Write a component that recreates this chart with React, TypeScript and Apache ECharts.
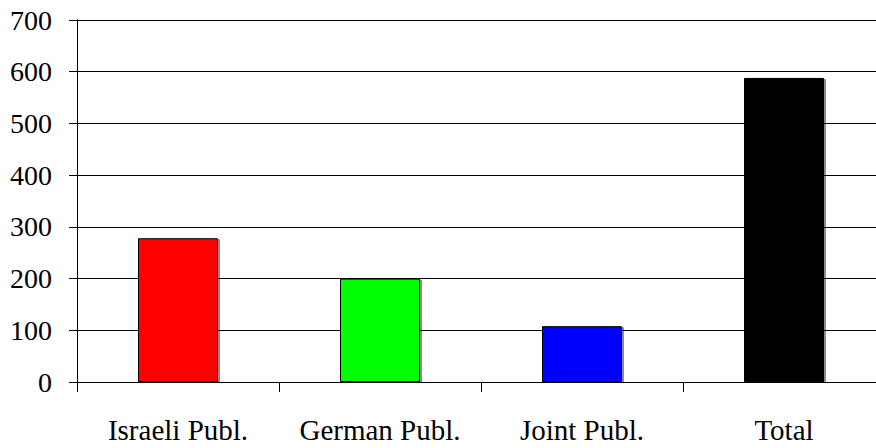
import React, { useEffect, useRef } from "react";
import * as echarts from "echarts";

const categories = ["Israeli Publ.", "German Publ.", "Joint Publ.", "Total"];
const values = [278, 200, 108, 588];
const barColors = ["#ff0000", "#00ff00", "#0000ff", "#000000"];
const yTicks = { min: 0, max: 700, interval: 100 };

export default function App() {
  const ref = useRef<HTMLDivElement>(null);
  useEffect(() => {
    if (!ref.current) return;
    const chart = echarts.init(ref.current, null, { renderer: "svg" });
    const font = "'Liberation Serif', 'Times New Roman', serif";
    chart.setOption({
      animation: false,
      backgroundColor: "#ffffff",
      grid: { left: 77, top: 20, width: 808, height: 362, outerBoundsMode: "none", containLabel: false },
      xAxis: {
        type: "category",
        data: categories,
        axisLine: { show: true, lineStyle: { color: "#000", width: 1 } },
        axisTick: { show: true, length: 10, alignWithLabel: false, lineStyle: { color: "#000", width: 1 } },
        axisLabel: { color: "#000", fontFamily: font, fontSize: 29, margin: 33, interval: 0 },
        splitLine: { show: false },
      },
      yAxis: {
        type: "value",
        min: yTicks.min,
        max: yTicks.max,
        interval: yTicks.interval,
        axisLine: { show: true, lineStyle: { color: "#000", width: 1 } },
        axisTick: { show: true, length: 8, lineStyle: { color: "#000", width: 1 } },
        axisLabel: { color: "#000", fontFamily: font, fontSize: 28, margin: 25 },
        splitLine: { show: true, lineStyle: { color: "#000", width: 1 } },
      },
      series: [
        {
          type: "bar",
          barWidth: 80,
          data: values.map((v, i) => ({
            value: v,
            itemStyle: {
              color: barColors[i],
              borderColor: "#000",
              borderWidth: 1,
              shadowColor: "rgba(0,0,0,0.45)",
              shadowOffsetX: 2,
              shadowOffsetY: 1,
              shadowBlur: 0,
            },
          })),
        },
      ],
    });
    return () => chart.dispose();
  }, []);
  return (
    <div
      ref={ref}
      style={{ position: "fixed", left: 0, top: 0, width: 876, height: 448, background: "#fff" }}
    />
  );
}
